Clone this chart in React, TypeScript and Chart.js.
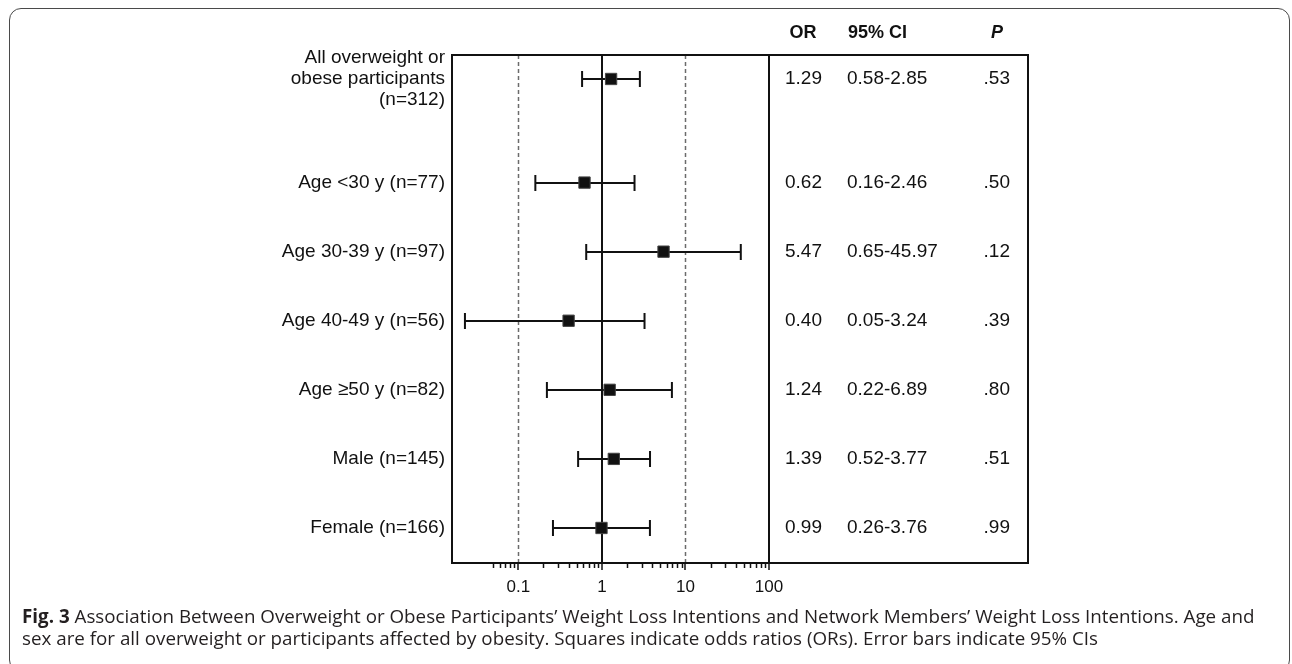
import React, { useEffect, useRef } from "react";
import { Chart, registerables } from "chart.js";

Chart.register(...registerables);

// ---- data ----
const groupLabels: string[][] = [
  ["All overweight or", "obese participants", "(n=312)"],
  ["Age <30 y (n=77)"],
  ["Age 30-39 y (n=97)"],
  ["Age 40-49 y (n=56)"],
  ["Age \u226550 y (n=82)"],
  ["Male (n=145)"],
  ["Female (n=166)"],
];
// plotted squares and whiskers
const oddsRatios = [1.29, 0.62, 5.47, 0.4, 1.24, 1.39, 0.99];
const ciLower = [0.58, 0.16, 0.65, 0.023, 0.22, 0.52, 0.26];
const ciUpper = [2.85, 2.46, 45.97, 3.24, 6.89, 3.77, 3.76];
// table columns
const orText = ["1.29", "0.62", "5.47", "0.40", "1.24", "1.39", "0.99"];
const ciText = ["0.58-2.85", "0.16-2.46", "0.65-45.97", "0.05-3.24", "0.22-6.89", "0.52-3.77", "0.26-3.76"];
const pText = [".53", ".50", ".12", ".39", ".80", ".51", ".99"];
const tableHeaders = ["OR", "95% CI", "P"];
const xTickValues = [0.1, 1, 10, 100];
const xTickLabels = ["0.1", "1", "10", "100"];
const dashedRefValues = [0.1, 10];
const nullValue = 1;

// ---- layout constants ----
const W = 1292;
const H = 664;
const PLOT_LEFT = 452;
const PLOT_TOP = 55;
const PLOT_BOTTOM = 563;
const PLOT_RIGHT = 769;
const TABLE_RIGHT = 1028;
const FONT = "'Liberation Sans', Arial, Helvetica, sans-serif";
const TEXT_SIZE = 19;

// row slot: extra gap after the first (three-line) group
const rowPositions = groupLabels.map((_, i) => (i === 0 ? 0 : i + 0.5));

// minor ticks of the log axis (2..9 within each decade, from 0.05)
const minorTicks: number[] = [];
[0.01, 0.1, 1, 10].forEach((d) => {
  for (let k = 2; k <= 9; k++) {
    const v = +(d * k).toFixed(6);
    if (v >= 0.05 && v < 100) minorTicks.push(v);
  }
});

const forestPlugin = {
  id: "forest",
  beforeDatasetsDraw(chart: any) {
    const { ctx, chartArea, scales } = chart;
    const xs = scales.x;
    const ys = scales.y;
    ctx.save();
    ctx.strokeStyle = "#6b6b6b";
    ctx.lineWidth = 1.5;
    ctx.setLineDash([4, 3]);
    dashedRefValues.forEach((v) => {
      const px = Math.round(xs.getPixelForValue(v)) + 0.5;
      ctx.beginPath();
      ctx.moveTo(px, chartArea.top);
      ctx.lineTo(px, chartArea.bottom);
      ctx.stroke();
    });
    ctx.setLineDash([]);
    ctx.strokeStyle = "#111";
    ctx.lineWidth = 2;
    const nx = Math.round(xs.getPixelForValue(nullValue));
    ctx.beginPath();
    ctx.moveTo(nx, chartArea.top);
    ctx.lineTo(nx, chartArea.bottom);
    ctx.stroke();
    oddsRatios.forEach((_, i) => {
      const y = Math.round(ys.getPixelForValue(rowPositions[i]));
      const x1 = xs.getPixelForValue(ciLower[i]);
      const x2 = xs.getPixelForValue(ciUpper[i]);
      ctx.beginPath();
      ctx.moveTo(x1, y);
      ctx.lineTo(x2, y);
      ctx.moveTo(x1, y - 8);
      ctx.lineTo(x1, y + 8);
      ctx.moveTo(x2, y - 8);
      ctx.lineTo(x2, y + 8);
      ctx.stroke();
    });
    ctx.restore();
  },
  afterDraw(chart: any) {
    const { ctx, chartArea, scales } = chart;
    const xs = scales.x;
    const ys = scales.y;
    ctx.save();
    ctx.strokeStyle = "#111";
    ctx.lineWidth = 2;
    ctx.beginPath();
    ctx.moveTo(chartArea.left, chartArea.top);
    ctx.lineTo(TABLE_RIGHT, chartArea.top);
    ctx.lineTo(TABLE_RIGHT, chartArea.bottom);
    ctx.lineTo(chartArea.left, chartArea.bottom);
    ctx.closePath();
    ctx.moveTo(chartArea.right, chartArea.top);
    ctx.lineTo(chartArea.right, chartArea.bottom);
    ctx.stroke();
    ctx.lineWidth = 1.5;
    ctx.beginPath();
    xTickValues.forEach((v) => {
      const px = Math.round(xs.getPixelForValue(v));
      ctx.moveTo(px, chartArea.bottom);
      ctx.lineTo(px, chartArea.bottom + 7);
    });
    minorTicks.forEach((v) => {
      const px = Math.round(xs.getPixelForValue(v)) + 0.5;
      ctx.moveTo(px, chartArea.bottom);
      ctx.lineTo(px, chartArea.bottom + 5);
    });
    ctx.stroke();

    ctx.fillStyle = "#111";
    ctx.textBaseline = "middle";
    const headerY = 33;
    ctx.font = `bold 18px ${FONT}`;
    ctx.textAlign = "center";
    ctx.fillText(tableHeaders[0], 803, headerY);
    ctx.textAlign = "left";
    ctx.fillText(tableHeaders[1], 848, headerY);
    ctx.textAlign = "center";
    ctx.font = `italic bold 18px ${FONT}`;
    ctx.fillText(tableHeaders[2], 997, headerY);
    ctx.font = `${TEXT_SIZE}px ${FONT}`;
    oddsRatios.forEach((_, i) => {
      const y = ys.getPixelForValue(rowPositions[i]);
      ctx.textAlign = "left";
      ctx.fillText(orText[i], 785, y);
      ctx.fillText(ciText[i], 847, y);
      ctx.textAlign = "right";
      ctx.fillText(pText[i], 1010, y);
    });
    ctx.restore();
  },
};

export default function App() {
  const canvasRef = useRef<HTMLCanvasElement | null>(null);

  useEffect(() => {
    const canvas = canvasRef.current;
    if (!canvas) return;
    const chart = new Chart(canvas, {
      type: "scatter",
      data: {
        datasets: [
          {
            data: oddsRatios.map((v, i) => ({ x: v, y: rowPositions[i] })),
            pointStyle: "rect",
            pointRadius: 8,
            pointHoverRadius: 8,
            backgroundColor: "#111",
            borderColor: "#444",
            borderWidth: 1,
          },
        ],
      },
      options: {
        animation: false,
        responsive: false,
        maintainAspectRatio: false,
        events: [],
        layout: { padding: { top: PLOT_TOP, right: W - PLOT_RIGHT, bottom: 0, left: 0 } },
        plugins: { legend: { display: false }, tooltip: { enabled: false } },
        scales: {
          x: {
            type: "logarithmic",
            min: 0.0161,
            max: 100,
            grid: { display: false, drawTicks: false },
            border: { display: false },
            afterBuildTicks: (s: any) => {
              s.ticks = xTickValues.map((v) => ({ value: v }));
            },
            afterFit: (s: any) => {
              s.height = H - PLOT_BOTTOM;
            },
            ticks: {
              autoSkip: false,
              maxRotation: 0,
              padding: 14,
              color: "#111",
              font: { family: FONT, size: 17 },
              callback: (_v: any, i: number) => xTickLabels[i],
            },
          },
          y: {
            type: "linear",
            reverse: true,
            min: -0.347,
            max: 7.007,
            grid: { display: false, drawTicks: false },
            border: { display: false },
            afterBuildTicks: (s: any) => {
              s.ticks = rowPositions.map((v) => ({ value: v }));
            },
            afterFit: (s: any) => {
              s.width = PLOT_LEFT;
            },
            ticks: {
              autoSkip: false,
              padding: 7,
              color: "#111",
              font: { family: FONT, size: TEXT_SIZE, lineHeight: 1.1 },
              callback: (_v: any, i: number) => groupLabels[i],
            },
          },
        },
      },
      plugins: [forestPlugin],
    } as any);
    return () => chart.destroy();
  }, []);

  return (
    <div
      style={{
        position: "fixed",
        left: 0,
        top: 0,
        width: W,
        height: H,
        overflow: "hidden",
        background: "#fff",
      }}
    >
      <div
        style={{
          position: "absolute",
          left: 9,
          top: 8,
          width: 1281,
          height: 664,
          border: "1.5px solid #4a4a4a",
          borderRadius: 12,
          boxSizing: "border-box",
        }}
      />
      <canvas
        ref={canvasRef}
        width={W}
        height={H}
        style={{ position: "absolute", left: 0, top: 0, width: W, height: H }}
      />
      <div
        style={{
          position: "absolute",
          left: 22,
          top: 605,
          fontFamily: "'Open Sans', 'Noto Sans', sans-serif",
          fontSize: 18.8,
          lineHeight: "22px",
          color: "#231f20",
          whiteSpace: "nowrap",
        }}
      >
        <b>Fig. 3</b> Association Between Overweight or Obese Participants’ Weight Loss Intentions and Network Members’ Weight Loss Intentions. Age and
        <br />
        sex are for all overweight or participants affected by obesity. Squares indicate odds ratios (ORs). Error bars indicate 95% CIs
      </div>
    </div>
  );
}
